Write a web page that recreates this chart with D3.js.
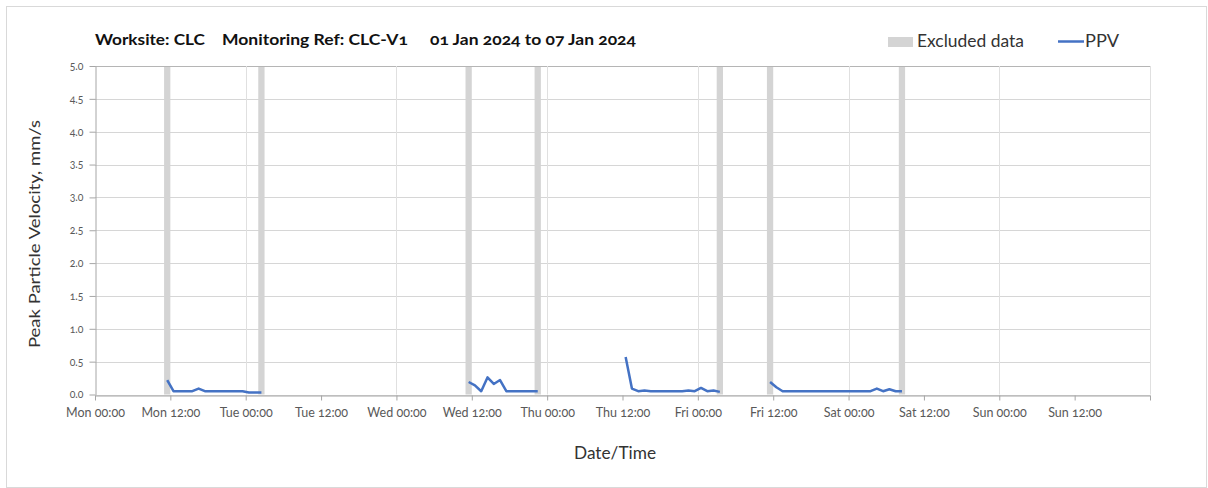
<!DOCTYPE html>
<html>
<head>
<meta charset="utf-8">
<title>PPV chart</title>
<script src="https://cdn.jsdelivr.net/npm/d3@7"></script>
<style>
	body { margin: 0; background: #fff; }
	svg text { font-family: Lato, "Open Sans", sans-serif; font-variant-numeric: oldstyle-nums; }
</style>
</head>
<body>
<div id="graph"></div>
<script>
//Javascript Document

//data, each segment is hourly from its start time
var titleParts = ["Worksite: CLC", "Monitoring Ref: CLC-V1", "01 Jan 2024 to 07 Jan 2024"];
var legendLabels = ["Excluded data", "PPV"];
var yTicks = [0, 0.5, 1, 1.5, 2, 2.5, 3, 3.5, 4, 4.5, 5];

var segmentStarts = ["2024-01-01T11:30", "2024-01-03T11:30", "2024-01-04T12:30", "2024-01-05T11:30"];
var seg1 = [0.22, 0.05, 0.05, 0.05, 0.05, 0.09, 0.05, 0.05, 0.05, 0.05, 0.05, 0.05, 0.05, 0.03, 0.03, 0.03];
var seg2 = [0.19, 0.14, 0.05, 0.26, 0.16, 0.22, 0.05, 0.05, 0.05, 0.05, 0.05, 0.05];
var seg3 = [0.57, 0.09, 0.05, 0.06, 0.05, 0.05, 0.05, 0.05, 0.05, 0.05, 0.06, 0.05, 0.10, 0.05, 0.06, 0.04];
var seg4 = [0.19, 0.11, 0.05, 0.05, 0.05, 0.05, 0.05, 0.05, 0.05, 0.05, 0.05, 0.05, 0.05, 0.05, 0.05, 0.05, 0.05, 0.09, 0.05, 0.08, 0.05, 0.05];

//excluded periods (start, end)
var excludedStart = ["2024-01-01T11:00", "2024-01-02T02:00", "2024-01-03T11:00", "2024-01-03T22:00", "2024-01-05T03:00", "2024-01-05T11:00", "2024-01-06T08:00"];
var excludedEnd   = ["2024-01-01T12:00", "2024-01-02T03:00", "2024-01-03T12:00", "2024-01-03T23:00", "2024-01-05T04:00", "2024-01-05T12:00", "2024-01-06T09:00"];

(function(){
	"use strict";

	var width = 1208, height = 488;
	var left = 95, right = 1150, top = 66, bottom = 394.5;
	var parse = d3.timeParse("%Y-%m-%dT%H:%M");
	var endDate = parse("2024-01-08T00:00");

	var svg = d3.select("#graph").append("svg")
		.attr("width", width)
		.attr("height", height);

	//light frame round the whole chart
	svg.append("rect")
		.attr("x", 6.5).attr("y", 6.5)
		.attr("width", 1200).attr("height", 481)
		.attr("fill", "none")
		.attr("stroke", "#d9d9d9");

	var xScale = d3.scaleTime()
		.domain([parse("2024-01-01T00:00"), endDate])
		.range([left, right]);

	var yScale = d3.scaleLinear()
		.domain([0, 5])
		.range([bottom, top]);

	//horizontal gridlines
	svg.append("g")
		.selectAll("line")
		.data(yTicks)
		.enter().append("line")
		.attr("x1", left).attr("x2", right)
		.attr("y1", function(d){ return Math.round(yScale(d)) + 0.5; })
		.attr("y2", function(d){ return Math.round(yScale(d)) + 0.5; })
		.attr("stroke", function(d){ return d == 5 ? "#b5b5b5" : "#d6d6d6"; });

	//vertical gridlines, one per day
	svg.append("g")
		.selectAll("line")
		.data(xScale.ticks(d3.timeDay.every(1)).slice(1))
		.enter().append("line")
		.attr("x1", function(d){ return Math.round(xScale(d)) + 0.5; })
		.attr("x2", function(d){ return Math.round(xScale(d)) + 0.5; })
		.attr("y1", top).attr("y2", bottom)
		.attr("stroke", "#e0e0e0");

	//excluded data bands
	svg.append("g")
		.selectAll("rect")
		.data(excludedStart)
		.enter().append("rect")
		.attr("x", function(d){ return xScale(parse(d)); })
		.attr("width", function(d, i){ return xScale(parse(excludedEnd[i])) - xScale(parse(d)); })
		.attr("y", top + 1)
		.attr("height", bottom - top - 1)
		.attr("fill", "#d4d4d4");

	//axes
	var fmt = d3.timeFormat("%a %H:%M");
	var xAxis = d3.axisBottom(xScale)
		.ticks(d3.timeHour.every(12))
		.tickFormat(function(d){ return +d == +endDate ? "" : fmt(d); })//no label on the last tick
		.tickSizeInner(5)
		.tickSizeOuter(0);

	var yAxis = d3.axisLeft(yScale)
		.tickValues(yTicks)
		.tickFormat(d3.format(".1f"))
		.tickSizeInner(6)
		.tickSizeOuter(0);

	var gx = svg.append("g")
		.attr("transform", "translate(0," + (Math.round(bottom) + 0.5) + ")")
		.call(xAxis);
	gx.select(".domain").attr("stroke", "#a6a6a6");
	gx.selectAll(".tick line").attr("stroke", "#a6a6a6");
	gx.selectAll(".tick text")
		.attr("y", 13)
		.attr("fill", "#595959")
		.style("font-size", "12.5px");

	var gy = svg.append("g")
		.attr("transform", "translate(" + (left + 0.5) + ",0)")
		.call(yAxis);
	gy.select(".domain").attr("stroke", "#a6a6a6");
	gy.selectAll(".tick line").attr("stroke", "#a6a6a6");
	gy.selectAll(".tick text")
		.attr("x", -12)
		.attr("fill", "#595959")
		.style("font-size", "10.5px");

	//PPV line, one path per segment so the gaps stay empty
	var segments = [seg1, seg2, seg3, seg4].map(function(vals, s){
		var t0 = parse(segmentStarts[s]);
		return vals.map(function(v, i){ return { t: d3.timeHour.offset(t0, i), v: v }; });
	});

	var line = d3.line()
		.x(function(d){ return xScale(d.t); })
		.y(function(d){ return yScale(d.v); });

	svg.append("g")
		.selectAll("path")
		.data(segments)
		.enter().append("path")
		.attr("d", line)
		.attr("fill", "none")
		.attr("stroke", "#4472c4")
		.attr("stroke-width", 2.5)
		.attr("stroke-linejoin", "round");

	//title, widths matched to the original font
	var titleX = [95, 222, 430];
	var titleW = [110, 186, 206];
	svg.append("g")
		.selectAll("text")
		.data(titleParts)
		.enter().append("text")
		.attr("x", function(d, i){ return titleX[i]; })
		.attr("y", 45)
		.attr("textLength", function(d, i){ return titleW[i]; })
		.attr("lengthAdjust", "spacingAndGlyphs")
		.attr("fill", "#111")
		.style("font-size", "16px")
		.style("font-weight", "bold")
		.text(function(d){ return d; });

	//legend
	var legend = svg.append("g");
	legend.append("rect")
		.attr("x", 888).attr("y", 37)
		.attr("width", 25).attr("height", 10)
		.attr("fill", "#d4d4d4");
	legend.append("text")
		.attr("x", 917).attr("y", 47)
		.attr("textLength", 107)
		.attr("lengthAdjust", "spacingAndGlyphs")
		.attr("fill", "#333")
		.style("font-size", "16.5px")
		.text(legendLabels[0]);
	legend.append("line")
		.attr("x1", 1058).attr("x2", 1084)
		.attr("y1", 41.5).attr("y2", 41.5)
		.attr("stroke", "#4472c4")
		.attr("stroke-width", 2.5);
	legend.append("text")
		.attr("x", 1085).attr("y", 47)
		.attr("textLength", 34)
		.attr("lengthAdjust", "spacingAndGlyphs")
		.attr("fill", "#333")
		.style("font-size", "16.5px")
		.text(legendLabels[1]);

	//axis titles
	svg.append("text")
		.attr("text-anchor", "middle")
		.attr("transform", "translate(40," + 234 + ")rotate(-90)")
		.attr("textLength", 228)
		.attr("lengthAdjust", "spacingAndGlyphs")
		.attr("fill", "#333")
		.style("font-size", "16px")
		.text("Peak Particle Velocity, mm/s");

	svg.append("text")
		.attr("text-anchor", "middle")
		.attr("x", 615).attr("y", 459)
		.attr("textLength", 82)
		.attr("lengthAdjust", "spacingAndGlyphs")
		.attr("fill", "#333")
		.style("font-size", "16.5px")
		.text("Date/Time");

})();
</script>
</body>
</html>
